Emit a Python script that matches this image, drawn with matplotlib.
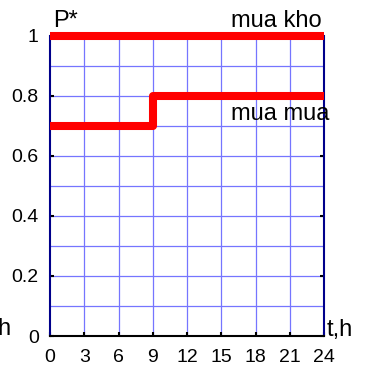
import matplotlib
matplotlib.use("Agg")
import matplotlib.pyplot as plt
import numpy as np

plt.rcParams['font.family'] = ['Liberation Sans', 'DejaVu Sans']

# gio trong ngay
gio = [0, 9, 9, 24]
mua_mua = [0.7, 0.7, 0.8, 0.8]
gio_kho = [0, 24]
mua_kho = [1, 1]

xticks = [0, 3, 6, 9, 12, 15, 18, 21, 24]
yticks = [0, 0.2, 0.4, 0.6, 0.8, 1]

fig = plt.figure(figsize=(3.73, 3.69), dpi=100)
ax = fig.add_axes([0.134, 0.0894, 0.735, 0.814])

for v in np.arange(0.1, 1.0, 0.1):
    ax.axhline(v, color="#7575ff", lw=0.9, zorder=1)
for v in xticks[1:-1]:
    ax.axvline(v, color="#7575ff", lw=0.9, zorder=1)

ax.plot(gio_kho, mua_kho, color="red", lw=5.8, solid_capstyle="butt",
        zorder=3, clip_on=False)
ax.plot(gio, mua_mua, color="red", lw=5.8, solid_capstyle="butt", zorder=3)

ax.set_xlim(0, 24)
ax.set_ylim(0, 1)
ax.set_xticks(xticks)
ax.set_yticks(yticks)
ax.set_yticklabels(["0", "0.2", "0.4", "0.6", "0.8", "1"])
ax.tick_params(direction="in", length=3, width=1.5, labelsize=14,
               right=True, colors="black")
ax.tick_params(axis="x", pad=9)
ax.tick_params(axis="y", pad=8)

ax.spines["left"].set_color("#00008b")
ax.spines["right"].set_color("#00008b")
ax.spines["top"].set_visible(False)
ax.spines["bottom"].set_color("black")
for s in ax.spines.values():
    s.set_linewidth(1.5)

ax.text(0.26, 1.03, "P*", fontsize=17)
ax.text(23.8, 1.03, "mua kho", fontsize=17, ha="right")
ax.text(24.5, 0.72, "mua mua", fontsize=17, ha="right")
ax.text(24.2, 0.0, "t,h", fontsize=17)
fig.text(-0.008, 0.092, "h", fontsize=17)

fig.savefig("out.png", dpi=100)
